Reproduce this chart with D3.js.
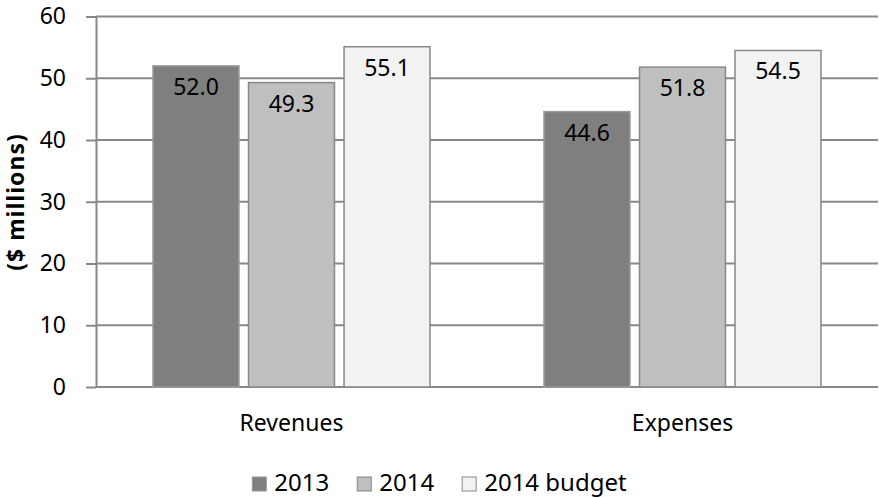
<!DOCTYPE html>
<html>
<head>
<meta charset="utf-8">
<script src="https://cdn.jsdelivr.net/npm/d3@7"></script>
<style>
  body { margin: 0; background: #fff; }
  svg text { font-family: "Noto Sans", "Open Sans", sans-serif; fill: #000; }
</style>
</head>
<body>
<div id="chart"></div>
<script>
const categories = ["Revenues", "Expenses"];
const seriesNames = ["2013", "2014", "2014 budget"];
const values2013 = [52.0, 44.6];
const values2014 = [49.3, 51.8];
const valuesBudget = [55.1, 54.5];
const yTicks = [0, 10, 20, 30, 40, 50, 60];

const seriesValues = [values2013, values2014, valuesBudget];
const fills = ["#7f7f7f", "#bfbfbf", "#f2f2f2"];
const strokes = ["#9a9a9a", "#888888", "#888888"];

const width = 879, height = 497;
const plotLeft = 96, plotRight = 878, plotTop = 16.5, plotBottom = 387;

const svg = d3.select("#chart").append("svg")
    .attr("width", width)
    .attr("height", height);

// scales
const x0 = d3.scaleBand().domain(categories).range([plotLeft, plotRight]);
const x1 = d3.scaleBand().domain(seriesNames).range([57, 334]).paddingInner(0.1);
const y = d3.scaleLinear().domain([0, 60]).range([plotBottom, plotTop]);

// gridlines
svg.append("g").selectAll("line")
    .data(yTicks)
    .enter().append("line")
    .attr("x1", plotLeft)
    .attr("x2", plotRight)
    .attr("y1", d => y(d))
    .attr("y2", d => y(d))
    .attr("stroke", "#888")
    .attr("stroke-width", 2);

// y axis
const yAxis = svg.append("g")
    .attr("transform", `translate(${plotLeft},0)`)
    .call(d3.axisLeft(y).tickValues(yTicks).tickSizeInner(10).tickSizeOuter(0).tickPadding(20));
yAxis.select(".domain").attr("stroke", "#888").attr("stroke-width", 2);
yAxis.selectAll(".tick line").attr("stroke", "#888").attr("stroke-width", 2);
yAxis.selectAll("text").attr("font-size", "23px").attr("font-family", null);

// bars
const groups = svg.append("g").selectAll("g")
    .data(categories)
    .enter().append("g")
    .attr("transform", d => `translate(${x0(d)},0)`);

groups.selectAll("rect")
    .data((c, ci) => seriesNames.map((s, si) => ({s: s, si: si, v: seriesValues[si][ci]})))
    .enter().append("rect")
    .attr("x", d => x1(d.s))
    .attr("y", d => y(d.v))
    .attr("width", x1.bandwidth())
    .attr("height", d => y(0) - y(d.v))
    .attr("fill", d => fills[d.si])
    .attr("stroke", d => strokes[d.si])
    .attr("stroke-width", 1.5);

groups.selectAll("text")
    .data((c, ci) => seriesNames.map((s, si) => ({s: s, si: si, v: seriesValues[si][ci]})))
    .enter().append("text")
    .attr("x", d => x1(d.s) + x1.bandwidth() / 2)
    .attr("y", d => y(d.v) + 29)
    .attr("text-anchor", "middle")
    .attr("font-size", "23px")
    .text(d => d.v.toFixed(1));

// x axis
const xAxis = svg.append("g")
    .attr("transform", `translate(0,${plotBottom})`)
    .call(d3.axisBottom(x0).tickSize(0).tickPadding(28));
xAxis.select(".domain").remove();
xAxis.selectAll("text").attr("font-size", "23px").attr("font-family", null);

// y axis title
svg.append("text")
    .attr("transform", "translate(24,202) rotate(-90)")
    .attr("text-anchor", "middle")
    .attr("font-size", "23px")
    .attr("font-weight", "bold")
    .attr("letter-spacing", "1px")
    .text("($ millions)");

// legend
const legend = svg.append("g");
let lx = 0;
seriesNames.forEach((s, i) => {
    const item = legend.append("g").attr("transform", `translate(${lx},0)`);
    item.append("rect")
        .attr("x", 0).attr("y", -14)
        .attr("width", 14).attr("height", 14)
        .attr("fill", fills[i])
        .attr("stroke", strokes[i])
        .attr("stroke-width", 1);
    const t = item.append("text")
        .attr("x", 22)
        .attr("y", 0)
        .attr("font-size", "24px")
        .text(s);
    lx += 22 + t.node().getComputedTextLength() + 28;
});
const legendWidth = lx - 28;
legend.attr("transform", `translate(${(width - legendWidth) / 2},491)`);
</script>
</body>
</html>
